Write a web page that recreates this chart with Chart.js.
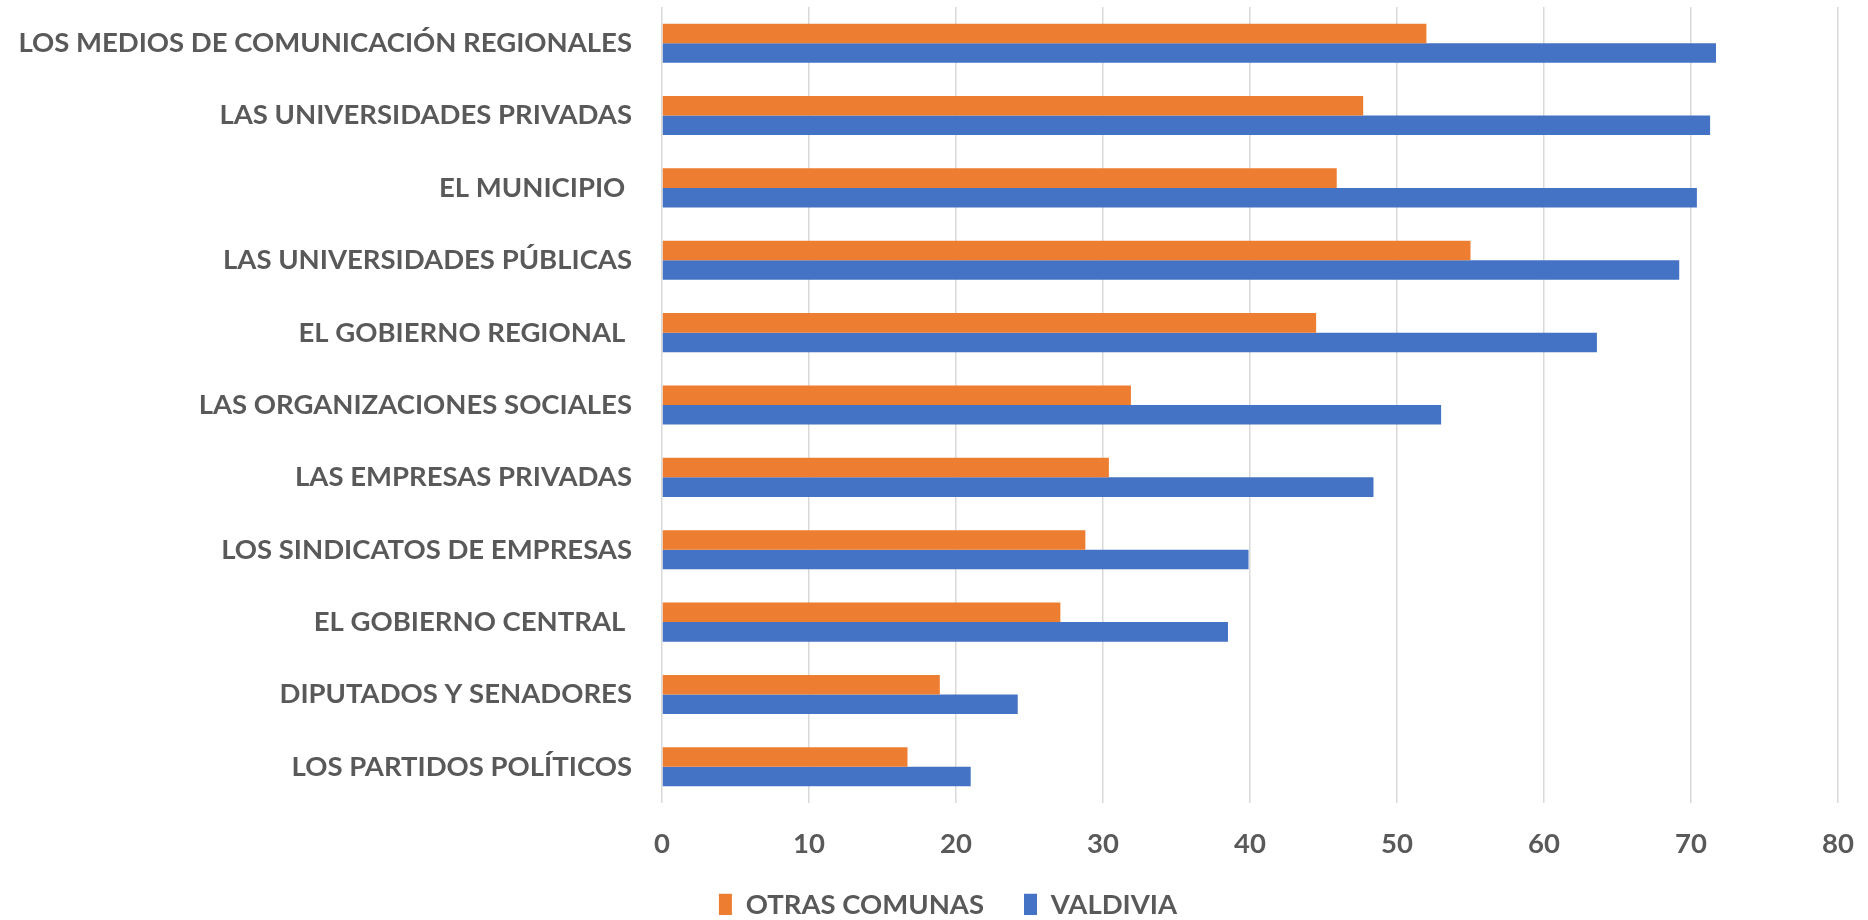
<!DOCTYPE html>
<html>
<head>
<meta charset="utf-8">
<script src="https://cdn.jsdelivr.net/npm/chart.js@4/dist/chart.umd.min.js"></script>
<style>
html,body{margin:0;padding:0;background:#fff;}
#wrap{width:1868px;height:920px;position:relative;}
</style>
</head>
<body>
<div id="wrap"><canvas id="c" width="1868" height="920"></canvas></div>
<script>
const categories = [
  "LOS MEDIOS DE COMUNICACIÓN REGIONALES",
  "LAS UNIVERSIDADES PRIVADAS",
  "EL MUNICIPIO ",
  "LAS UNIVERSIDADES PÚBLICAS",
  "EL GOBIERNO REGIONAL ",
  "LAS ORGANIZACIONES SOCIALES",
  "LAS EMPRESAS PRIVADAS",
  "LOS SINDICATOS DE EMPRESAS",
  "EL GOBIERNO CENTRAL ",
  "DIPUTADOS Y SENADORES",
  "LOS PARTIDOS POLÍTICOS"
];
const otrasComunas = [52.0, 47.7, 45.9, 55.0, 44.5, 31.9, 30.4, 28.8, 27.1, 18.9, 16.7];
const valdivia     = [71.7, 71.3, 70.4, 69.2, 63.6, 53.0, 48.4, 39.9, 38.5, 24.2, 21.0];
const seriesNames = ["OTRAS COMUNAS", "VALDIVIA"];
const xTicks = [0, 10, 20, 30, 40, 50, 60, 70, 80];

const FONT = "Lato";
const mctx = document.createElement('canvas').getContext('2d');
mctx.font = "bold 100px " + FONT;
let fs = Math.round(100 * 613 / mctx.measureText(categories[0]).width * 10) / 10;
if (!isFinite(fs) || fs < 10) fs = 26;

const textColor = "#595959";

// small nudge of the legend box to match the reference placement
const legendNudge = {
  id: 'legendNudge',
  afterLayout(chart) {
    const l = chart.legend;
    if (!l) return;
    l.left += 29; l.right += 29;
    l.top -= 5; l.bottom -= 5;
  }
};

new Chart(document.getElementById('c'), {
  type: 'bar',
  data: {
    labels: categories,
    datasets: [
      { label: seriesNames[0], data: otrasComunas, backgroundColor: "#ED7D31", barPercentage: 1, categoryPercentage: 0.54 },
      { label: seriesNames[1], data: valdivia, backgroundColor: "#4472C4", barPercentage: 1, categoryPercentage: 0.54 }
    ]
  },
  plugins: [legendNudge],
  options: {
    indexAxis: 'y',
    responsive: false,
    animation: false,
    devicePixelRatio: 1,
    layout: { padding: { top: 7, right: 30, left: 0, bottom: 0 } },
    plugins: {
      tooltip: { enabled: false },
      legend: {
        position: 'bottom',
        maxHeight: 64,
        labels: {
          color: textColor,
          font: { family: FONT, size: fs, weight: 'bold' },
          boxWidth: 13,
          boxHeight: 22,
          padding: 40
        }
      }
    },
    scales: {
      x: {
        min: 0, max: 80,
        afterBuildTicks: (s) => { s.ticks = xTicks.map(v => ({ value: v })); },
        grid: { color: "#d9d9d9", lineWidth: 1.5, drawTicks: false },
        border: { display: false },
        ticks: { color: textColor, font: { family: FONT, size: fs, weight: 'bold' }, padding: 25 },
        afterFit: (s) => { s.height = 53; s.paddingLeft = 0; s.paddingRight = 0; }
      },
      y: {
        grid: { display: false },
        border: { display: false },
        ticks: { color: textColor, font: { family: FONT, size: fs, weight: 'bold' }, padding: 22, autoSkip: false },
        afterFit: (s) => { s.width = 662; s.paddingTop = 0; s.paddingBottom = 0; }
      }
    }
  }
});
</script>
</body>
</html>
